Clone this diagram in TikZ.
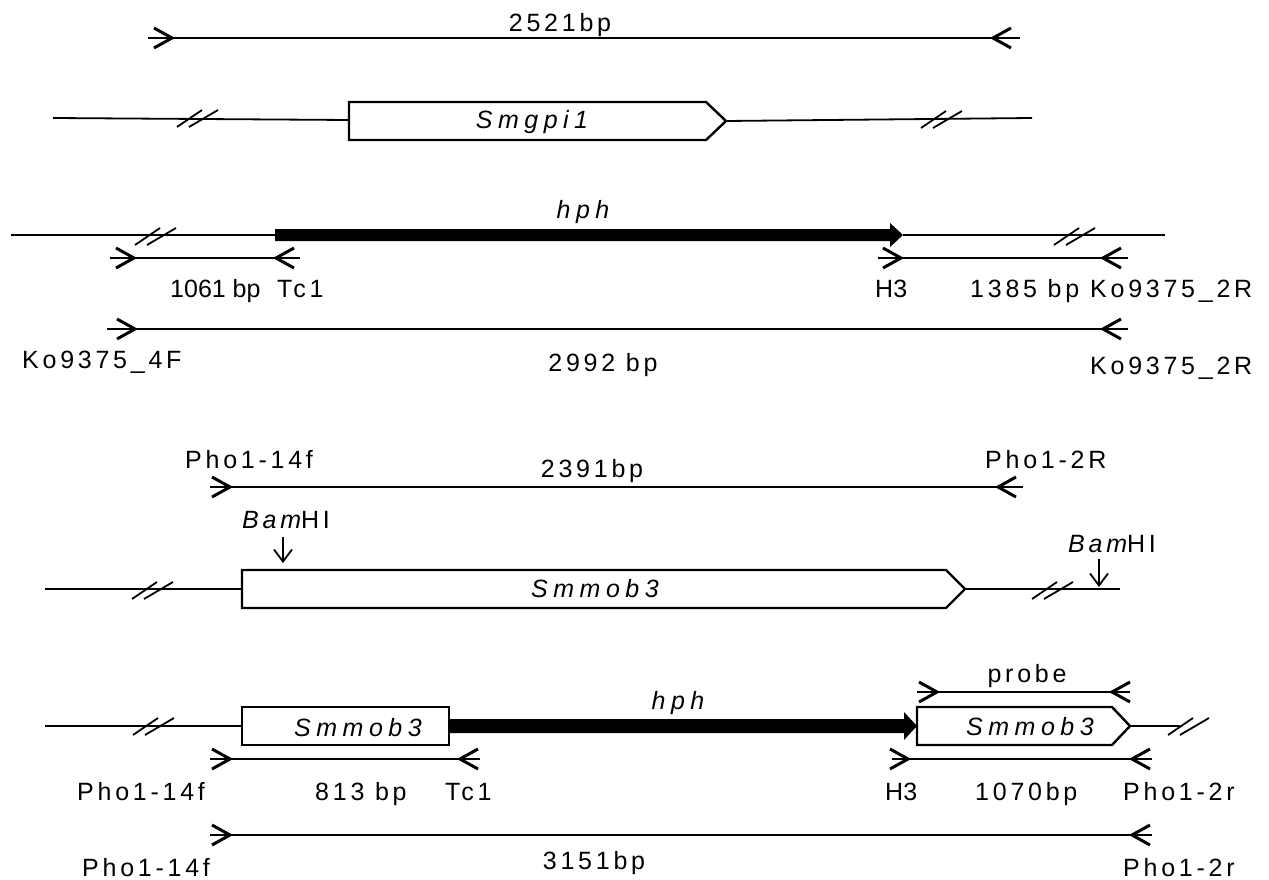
\documentclass[tikz,border=0pt]{standalone}
\usepackage{fontspec}
\usetikzlibrary{arrows.meta}
\newfontfamily\labfont[LetterSpace=15]{Liberation Sans}
\newfontfamily\genefont[LetterSpace=22]{Liberation Sans}
\newfontfamily\plainfont{Liberation Sans}
\begin{document}
\begin{tikzpicture}[x=1pt, y=-1pt,
    dna/.style={line width=1.8pt},
    pr/.style={line width=2.4pt},
    tipl/.style={line width=3pt, line join=miter},
    gene/.style={draw=black, fill=white, line width=2.4pt},
    lab/.style={font=\labfont\fontsize{25}{29}\selectfont, inner sep=0pt, anchor=base west},
    labn/.style={lab, font=\plainfont\fontsize{25}{29}\selectfont},
    glab/.style={font=\genefont\itshape\fontsize{25}{29}\selectfont, inner sep=0pt, anchor=base},
    cut/.style={line width=1.8pt, -{Straight Barb[length=12pt, width=18pt]}},
    fwd/.pic={\draw[tipl] (-18,-10) -- (0,0) -- (-18,10);},
    rev/.pic={\draw[tipl] (18,-10) -- (0,0) -- (18,10);},
    brk/.pic={\draw[line width=1.8pt] (-20,9) -- (5,-8) (-8,9) -- (21,-8);}]
  \useasboundingbox (0,0) rectangle (1269,880);

  % wild type Smgpi1
  \coordinate (a1) at (148,38);
  \coordinate (a2) at (1020,38);
  \draw[pr] (a1) -- (a2);
  \pic at (172,38) {fwd};
  \pic at (993,38) {rev};
  \node[lab, anchor=base] (len1) at (560,32) {2521bp};

  \coordinate (g1l) at (53,118);
  \coordinate (gpiW) at (349,120);
  \coordinate (gpiE) at (726,121);
  \coordinate (g1r) at (1032,118);
  \draw[gene] (349,102) -- (706,102) -- (gpiE) -- (706,140) -- (349,140) -- cycle;
  \draw[dna] (g1l) -- (gpiW);
  \draw[dna] (gpiE) -- (g1r);
  \pic at (197,118) {brk};
  \pic at (941,119) {brk};
  \node[glab] (gpi) at (532,129) {Smgpi1};

  % knock-out Smgpi1
  \coordinate (h1l) at (11,235);
  \coordinate (h1s) at (275,235);
  \coordinate (h1e) at (903,235);
  \coordinate (h1r) at (1165,235);
  \draw[dna] (h1l) -- (h1s);
  \draw[dna] (h1e) -- (h1r);
  \fill (275,229) -- (890,229) -- (890,223) -- (h1e) -- (890,247) -- (890,241) -- (275,241) -- cycle;
  \pic at (155,236) {brk};
  \pic at (1074,236) {brk};
  \node[glab] (hph1) at (583,218) {hph};

  \coordinate (b1) at (110,258);
  \coordinate (b2) at (300,258);
  \draw[pr] (b1) -- (b2);
  \pic at (134,258) {fwd};
  \pic at (276,258) {rev};
  \coordinate (c1) at (878,258);
  \coordinate (c2) at (1128,258);
  \draw[pr] (c1) -- (c2);
  \pic at (901,258) {fwd};
  \pic at (1103,258) {rev};
  \node[labn] (len2) at (170,297) {1061 bp};
  \node[lab] (tc1a) at (277,297) {Tc1};
  \node[labn] (h3a) at (875,297) {H3};
  \node[lab] (len3) at (970,297) {1385 bp};
  \node[lab] (ko2a) at (1090,297) {Ko9375\_2R};

  \coordinate (d1) at (107,329);
  \coordinate (d2) at (1128,329);
  \draw[pr] (d1) -- (d2);
  \pic at (135,329) {fwd};
  \pic at (1103,329) {rev};
  \node[lab] (ko4) at (22,368) {Ko9375\_4F};
  \node[lab, anchor=base] (len4) at (603,371) {2992 bp};
  \node[lab] (ko2b) at (1090,374) {Ko9375\_2R};

  % wild type Smmob3
  \node[lab] (ph14a) at (185,468) {Pho1-14f};
  \node[lab, anchor=base] (len5) at (592,477) {2391bp};
  \node[lab] (ph2R) at (985,468) {Pho1-2R};
  \coordinate (e1) at (210,487);
  \coordinate (e2) at (1023,487);
  \draw[pr] (e1) -- (e2);
  \pic at (230,487) {fwd};
  \pic at (998,487) {rev};

  \node[lab] (bam1) at (242,528) {{\itshape Bam}HI};
  \coordinate (bam1t) at (283,537);
  \coordinate (bam1b) at (283,563);
  \draw[cut] (bam1t) -- (bam1b);
  \node[lab] (bam2) at (1068,552) {{\itshape Bam}HI};
  \coordinate (bam2t) at (1099,559);
  \coordinate (bam2b) at (1099,587);
  \draw[cut] (bam2t) -- (bam2b);

  \coordinate (m1l) at (45,589);
  \coordinate (mobW) at (242,589);
  \coordinate (mobE) at (965,589);
  \coordinate (m1r) at (1120,589);
  \draw[gene] (242,570) -- (946,570) -- (mobE) -- (946,608) -- (242,608) -- cycle;
  \draw[dna] (m1l) -- (mobW);
  \draw[dna] (mobE) -- (m1r);
  \pic at (152,590) {brk};
  \pic at (1052,590) {brk};
  \node[glab] (mob) at (595,597) {Smmob3};

  % knock-out Smmob3
  \coordinate (k1l) at (45,726);
  \coordinate (k1s) at (242,726);
  \draw[dna] (k1l) -- (k1s);
  \pic at (153,726) {brk};
  \draw[gene] (242,707) rectangle (449,745);
  \node[glab] (mobA) at (358,736) {Smmob3};
  \coordinate (k1e) at (917,726);
  \fill (449,719) -- (904,719) -- (904,712) -- (k1e) -- (904,740) -- (904,733) -- (449,733) -- cycle;
  \node[glab] (hph2) at (678,709) {hph};
  \coordinate (mobBE) at (1130,726);
  \coordinate (k1r) at (1180,726);
  \draw[gene] (917,707) -- (1112,707) -- (mobBE) -- (1112,745) -- (917,745) -- cycle;
  \node[glab] (mobB) at (1030,735) {Smmob3};
  \draw[dna] (mobBE) -- (k1r);
  \pic at (1188,726) {brk};

  \coordinate (f1) at (917,692);
  \coordinate (f2) at (1130,692);
  \draw[pr] (f1) -- (f2);
  \pic at (937,692) {fwd};
  \pic at (1112,692) {rev};
  \node[lab, anchor=base] (prb) at (1027,682) {probe};

  \coordinate (i1) at (210,759);
  \coordinate (i2) at (480,759);
  \draw[pr] (i1) -- (i2);
  \pic at (230,759) {fwd};
  \pic at (460,759) {rev};
  \coordinate (j1) at (892,759);
  \coordinate (j2) at (1152,759);
  \draw[pr] (j1) -- (j2);
  \pic at (908,759) {fwd};
  \pic at (1132,759) {rev};
  \node[lab] (ph14b) at (77,800) {Pho1-14f};
  \node[lab] (len6) at (315,800) {813 bp};
  \node[lab] (tc1b) at (445,800) {Tc1};
  \node[labn] (h3b) at (885,800) {H3};
  \node[lab] (len7) at (975,800) {1070bp};
  \node[lab] (ph2a) at (1123,800) {Pho1-2r};

  \coordinate (n1) at (210,835);
  \coordinate (n2) at (1152,835);
  \draw[pr] (n1) -- (n2);
  \pic at (230,835) {fwd};
  \pic at (1132,835) {rev};
  \node[lab] (ph14c) at (82,876) {Pho1-14f};
  \node[lab, anchor=base] (len8) at (594,869) {3151bp};
  \node[lab] (ph2b) at (1123,876) {Pho1-2r};
\end{tikzpicture}
\end{document}
